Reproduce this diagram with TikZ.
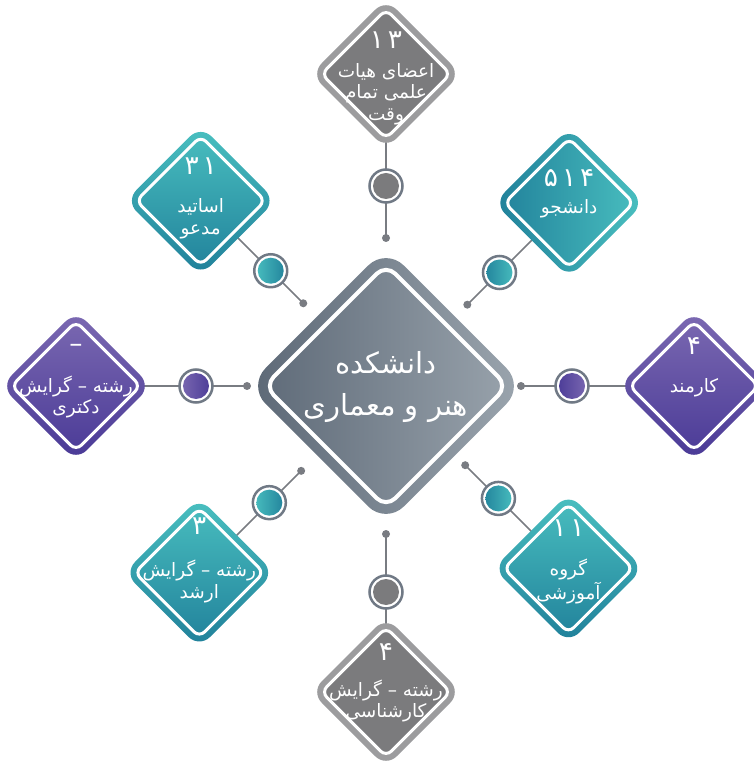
\documentclass[tikz,border=0pt]{standalone}
\usepackage{fontspec}
\usetikzlibrary{shapes.geometric,backgrounds}
\TeXXeTstate=1
\newfontfamily\fa[Script=Arabic]{DejaVu Sans}
\newfontfamily\fanum[Script=Arabic,LetterSpace=15]{DejaVu Sans}
\newcommand\rtline[1]{\beginR #1\endR}

\definecolor{tealL}{RGB}{74,192,192}
\definecolor{tealD}{RGB}{32,128,154}
\definecolor{purL}{RGB}{124,106,178}
\definecolor{purD}{RGB}{73,57,150}
\definecolor{grayR}{RGB}{156,156,158}
\definecolor{grayF}{RGB}{123,123,125}
\definecolor{slateL}{RGB}{155,165,174}
\definecolor{slateD}{RGB}{92,104,118}
\definecolor{lineC}{RGB}{121,124,130}
\definecolor{ringC}{RGB}{112,121,133}

\tikzset{
	sat/.style={diamond, aspect=1, inner sep=0pt, outer sep=0pt, minimum size=3.0cm, rounded corners=0.3cm,
		path picture={\draw[white, line width=0.06cm, rounded corners=0.15cm, fill=#1, shift={(path picture bounding box.center)}]
			(0,1.29) -- (1.29,0) -- (0,-1.29) -- (-1.29,0) -- cycle;}},
	sat/.default=none,
	hub/.style={diamond, aspect=1, inner sep=0pt, outer sep=0pt, minimum size=5.53cm, rounded corners=0.5cm,
		left color=slateD, right color=slateL,
		path picture={\draw[white, line width=0.08cm, rounded corners=0.26cm, shift={(path picture bounding box.center)}]
			(0,2.43) -- (2.43,0) -- (0,-2.43) -- (-2.43,0) -- cycle;}},
	ring/.style={circle, draw=ringC, line width=0.05cm, fill=white, minimum size=0.66cm, inner sep=0pt, outer sep=0pt,
		path picture={\path[#1] (path picture bounding box.center) circle (0.26cm);}},
	knob/.style={circle, fill=lineC, inner sep=0pt, minimum size=0.16cm},
	conn/.style={draw=lineC, line width=0.03cm},
	lbl/.style={text=white, align=center, inner sep=0pt, font=\fa\fontsize{10.5}{12.2}\selectfont},
	num/.style={text=white, inner sep=0pt, font=\fanum\fontsize{15}{15}\selectfont}
}

\begin{document}
\begin{tikzpicture}
	\useasboundingbox (-7.72,7.72) rectangle (7.34,-7.5);
	
	\node[hub](DAN) at (0,0){};
	\node[lbl, below of=DAN, node distance=0.02cm, font=\fa\fontsize{16.5}{23.5}\selectfont](DAN2){\rtline{دانشکده}\\\rtline{هنر و معماری}};
	
	% satellites
	\node[sat=grayF, fill=grayR, above of=DAN, node distance=6.24cm](FAC1){};
	\node[sat, top color=tealL, bottom color=tealD, above left of=DAN, node distance=5.24cm](INV1){};
	\node[sat, left color=tealD, right color=tealL, above right of=DAN, node distance=5.18cm](STD1){};
	\node[sat, top color=purL, bottom color=purD, left of=DAN, node distance=6.2cm](PHD1){};
	\node[sat, top color=purL, bottom color=purD, right of=DAN, node distance=6.16cm](EMP1){};
	\node[sat, top color=tealL, bottom color=tealD, below left of=DAN, node distance=5.28cm](MSC1){};
	\node[sat, top color=tealL, bottom color=tealD, below right of=DAN, node distance=5.16cm](GRP1){};
	\node[sat=grayF, fill=grayR, below of=DAN, node distance=6.12cm](BSC1){};
	
	% numbers
	\node[num, above of=FAC1, node distance=0.68cm](FAC3){۱۳};
	\node[num, above of=INV1, node distance=0.7cm](INV3){۳۱};
	\node[num, above of=STD1, node distance=0.5cm](STD3){۵۱۴};
	\node[num, above of=PHD1, node distance=0.76cm](PHD3){–};
	\node[num, above of=EMP1, node distance=0.8cm](EMP3){۴};
	\node[num, above of=MSC1, node distance=0.94cm](MSC3){۳};
	\node[num, above of=GRP1, node distance=0.8cm](GRP3){۱۱};
	\node[num, above of=BSC1, node distance=0.8cm](BSC3){۴};
	
	% texts
	\node[lbl, below of=FAC1, node distance=0.4cm](FAC2){\rtline{اعضای هیات}\\\rtline{علمی تمام}\\\rtline{وقت}};
	\node[lbl, below of=INV1, node distance=0.36cm](INV2){\rtline{اساتید}\\\rtline{مدعو}};
	\node[lbl, below of=STD1, node distance=0.12cm](STD2){\rtline{دانشجو}};
	\node[lbl, below of=PHD1, node distance=0.22cm](PHD2){\rtline{رشته – گرایش}\\\rtline{دکتری}};
	\node[lbl, below of=EMP1, node distance=0.04cm](EMP2){\rtline{کارمند}};
	\node[lbl, below of=MSC1, node distance=0.18cm](MSC2){\rtline{رشته – گرایش}\\\rtline{ارشد}};
	\node[lbl, below of=GRP1, node distance=0.26cm](GRP2){\rtline{گروه}\\\rtline{آموزشی}};
	\node[lbl, below of=BSC1, node distance=0.18cm](BSC2){\rtline{رشته – گرایش}\\\rtline{کارشناسی}};
	
	% rings
	\node[ring={fill=grayF}, above of=DAN, node distance=4.0cm](C1){};
	\node[ring={left color=tealL, right color=tealD}, above left of=DAN, node distance=3.26cm](C2){};
	\node[ring={left color=tealD, right color=tealL}, above right of=DAN, node distance=3.21cm](C3){};
	\node[ring={left color=purL, right color=purD}, left of=DAN, node distance=3.8cm](C4){};
	\node[ring={left color=purD, right color=purL}, right of=DAN, node distance=3.72cm](C5){};
	\node[ring={left color=tealL, right color=tealD}, below left of=DAN, node distance=3.3cm](C6){};
	\node[ring={left color=tealD, right color=tealL}, below right of=DAN, node distance=3.18cm](C7){};
	\node[ring={fill=grayF}, below of=DAN, node distance=4.12cm](C8){};
	
	% dots
	\node[knob, above of=DAN, node distance=2.96cm](D1){};
	\node[knob, above left of=DAN, node distance=2.34cm](D2){};
	\node[knob, above right of=DAN, node distance=2.3cm](D3){};
	\node[knob, left of=DAN, node distance=2.78cm](D4){};
	\node[knob, right of=DAN, node distance=2.7cm](D5){};
	\node[knob, below left of=DAN, node distance=2.4cm](D6){};
	\node[knob, below right of=DAN, node distance=2.24cm](D7){};
	\node[knob, below of=DAN, node distance=2.96cm](D8){};
	
	\begin{scope}[on background layer]
		\draw[conn] (D1.center) -- (C1.center) -- (FAC1.center);
		\draw[conn] (D2.center) -- (C2.center) -- (INV1.center);
		\draw[conn] (D3.center) -- (C3.center) -- (STD1.center);
		\draw[conn] (D4.center) -- (C4.center) -- (PHD1.center);
		\draw[conn] (D5.center) -- (C5.center) -- (EMP1.center);
		\draw[conn] (D6.center) -- (C6.center) -- (MSC1.center);
		\draw[conn] (D7.center) -- (C7.center) -- (GRP1.center);
		\draw[conn] (D8.center) -- (C8.center) -- (BSC1.center);
	\end{scope}
\end{tikzpicture}
\end{document}
